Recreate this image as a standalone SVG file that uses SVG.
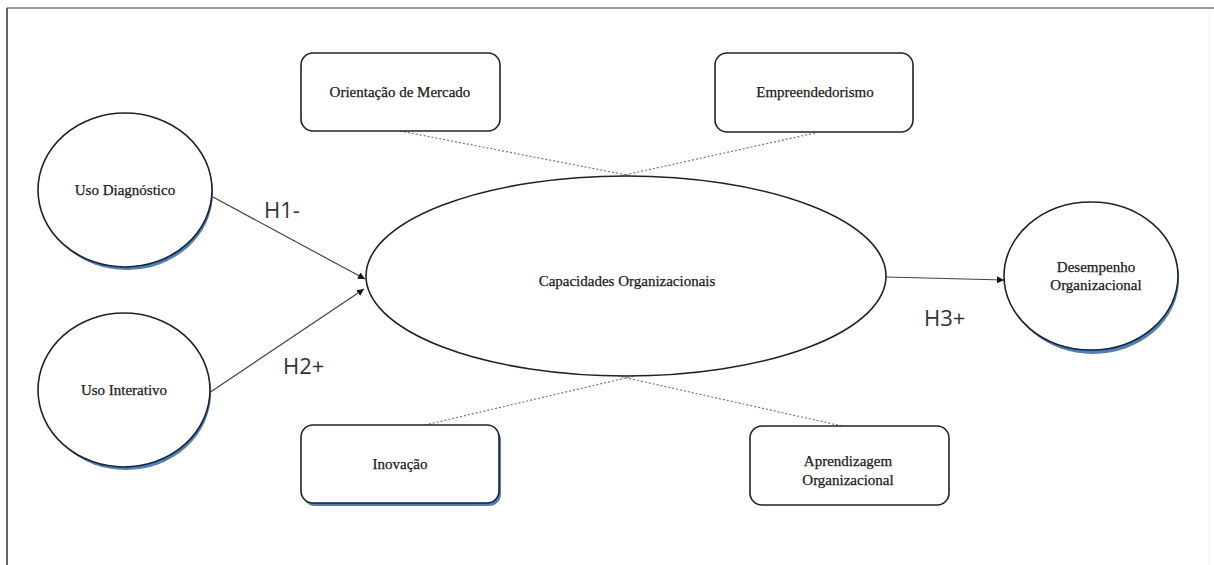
<svg xmlns="http://www.w3.org/2000/svg" width="1214" height="565" viewBox="0 0 1214 565">
<defs>
<style>
.node{fill:#fff;stroke:#222;stroke-width:1.6}
.shadow{fill:#4a7fc0;stroke:none}
.lbl{font-family:"Liberation Serif","Times New Roman",serif;font-size:15px;fill:#1a1a1a;stroke:#1a1a1a;stroke-width:0.25;text-anchor:middle}
.h{font-family:"Open Sans","Liberation Sans",sans-serif;font-size:22px;fill:#333}
.link{stroke:#444;stroke-width:1.2;fill:none}
.dot{stroke:#777;stroke-width:1.2;stroke-dasharray:2 2;fill:none}
</style>
<marker id="arr" viewBox="0 0 10 10" refX="10" refY="5" markerWidth="7" markerHeight="7" markerUnits="userSpaceOnUse" orient="auto">
<path d="M0,0 L10,5 L0,10 z" fill="#111"/>
</marker>
</defs>
<rect width="1214" height="565" fill="#fff"/>
<g id="frame">
<line x1="7" y1="8" x2="1214" y2="8" stroke="#999" stroke-width="2"/>
<line x1="7" y1="8" x2="7" y2="565" stroke="#666" stroke-width="2"/>
<line x1="1209" y1="9" x2="1209" y2="565" stroke="#eee" stroke-width="1"/>
</g>
<g id="connectors">
<line class="dot" x1="400" y1="131" x2="632" y2="176"/>
<line class="dot" x1="815" y1="133" x2="620" y2="176"/>
<line class="dot" x1="425" y1="425" x2="634" y2="376"/>
<line class="dot" x1="842" y1="426" x2="618" y2="376"/>
<line class="link" x1="213" y1="197" x2="365" y2="279" marker-end="url(#arr)"/>
<line class="link" x1="209" y1="393" x2="364" y2="289" marker-end="url(#arr)"/>
<line class="link" x1="886" y1="277" x2="1004" y2="280" marker-end="url(#arr)"/>
<text class="h" x="264" y="218">H1-</text>
<text class="h" x="283" y="374">H2+</text>
<text class="h" x="924" y="326">H3+</text>
</g>
<g id="uso-diagnostico">
<ellipse class="shadow" cx="127" cy="193" rx="86" ry="77"/>
<ellipse class="node" cx="125" cy="190" rx="87" ry="77"/>
<text class="lbl" x="125" y="195">Uso Diagnóstico</text>
</g>
<g id="uso-interativo">
<ellipse class="shadow" cx="126" cy="393" rx="85" ry="77"/>
<ellipse class="node" cx="124" cy="390" rx="86" ry="77"/>
<text class="lbl" x="124" y="395">Uso Interativo</text>
</g>
<g id="capacidades">
<ellipse class="node" cx="626" cy="276" rx="260" ry="100"/>
<text class="lbl" x="627" y="286">Capacidades Organizacionais</text>
</g>
<g id="desempenho">
<ellipse class="shadow" cx="1093" cy="279" rx="86" ry="75"/>
<ellipse class="node" cx="1091" cy="276" rx="87" ry="74"/>
<text class="lbl" x="1096" y="272">Desempenho</text>
<text class="lbl" x="1096" y="290">Organizacional</text>
</g>
<g id="orientacao">
<rect class="node" x="301" y="53" width="199" height="78" rx="12"/>
<text class="lbl" x="400" y="97">Orientação de Mercado</text>
</g>
<g id="empreendedorismo">
<rect class="node" x="715" y="53" width="198" height="79" rx="12"/>
<text class="lbl" x="815" y="97">Empreendedorismo</text>
</g>
<g id="inovacao">
<rect class="shadow" x="303" y="428" width="198" height="78" rx="12"/>
<rect class="node" x="301" y="425" width="198" height="78" rx="12"/>
<text class="lbl" x="400" y="469">Inovação</text>
</g>
<g id="aprendizagem">
<rect class="node" x="750" y="426" width="199" height="79" rx="12"/>
<text class="lbl" x="848" y="466">Aprendizagem</text>
<text class="lbl" x="848" y="485">Organizacional</text>
</g>
</svg>
